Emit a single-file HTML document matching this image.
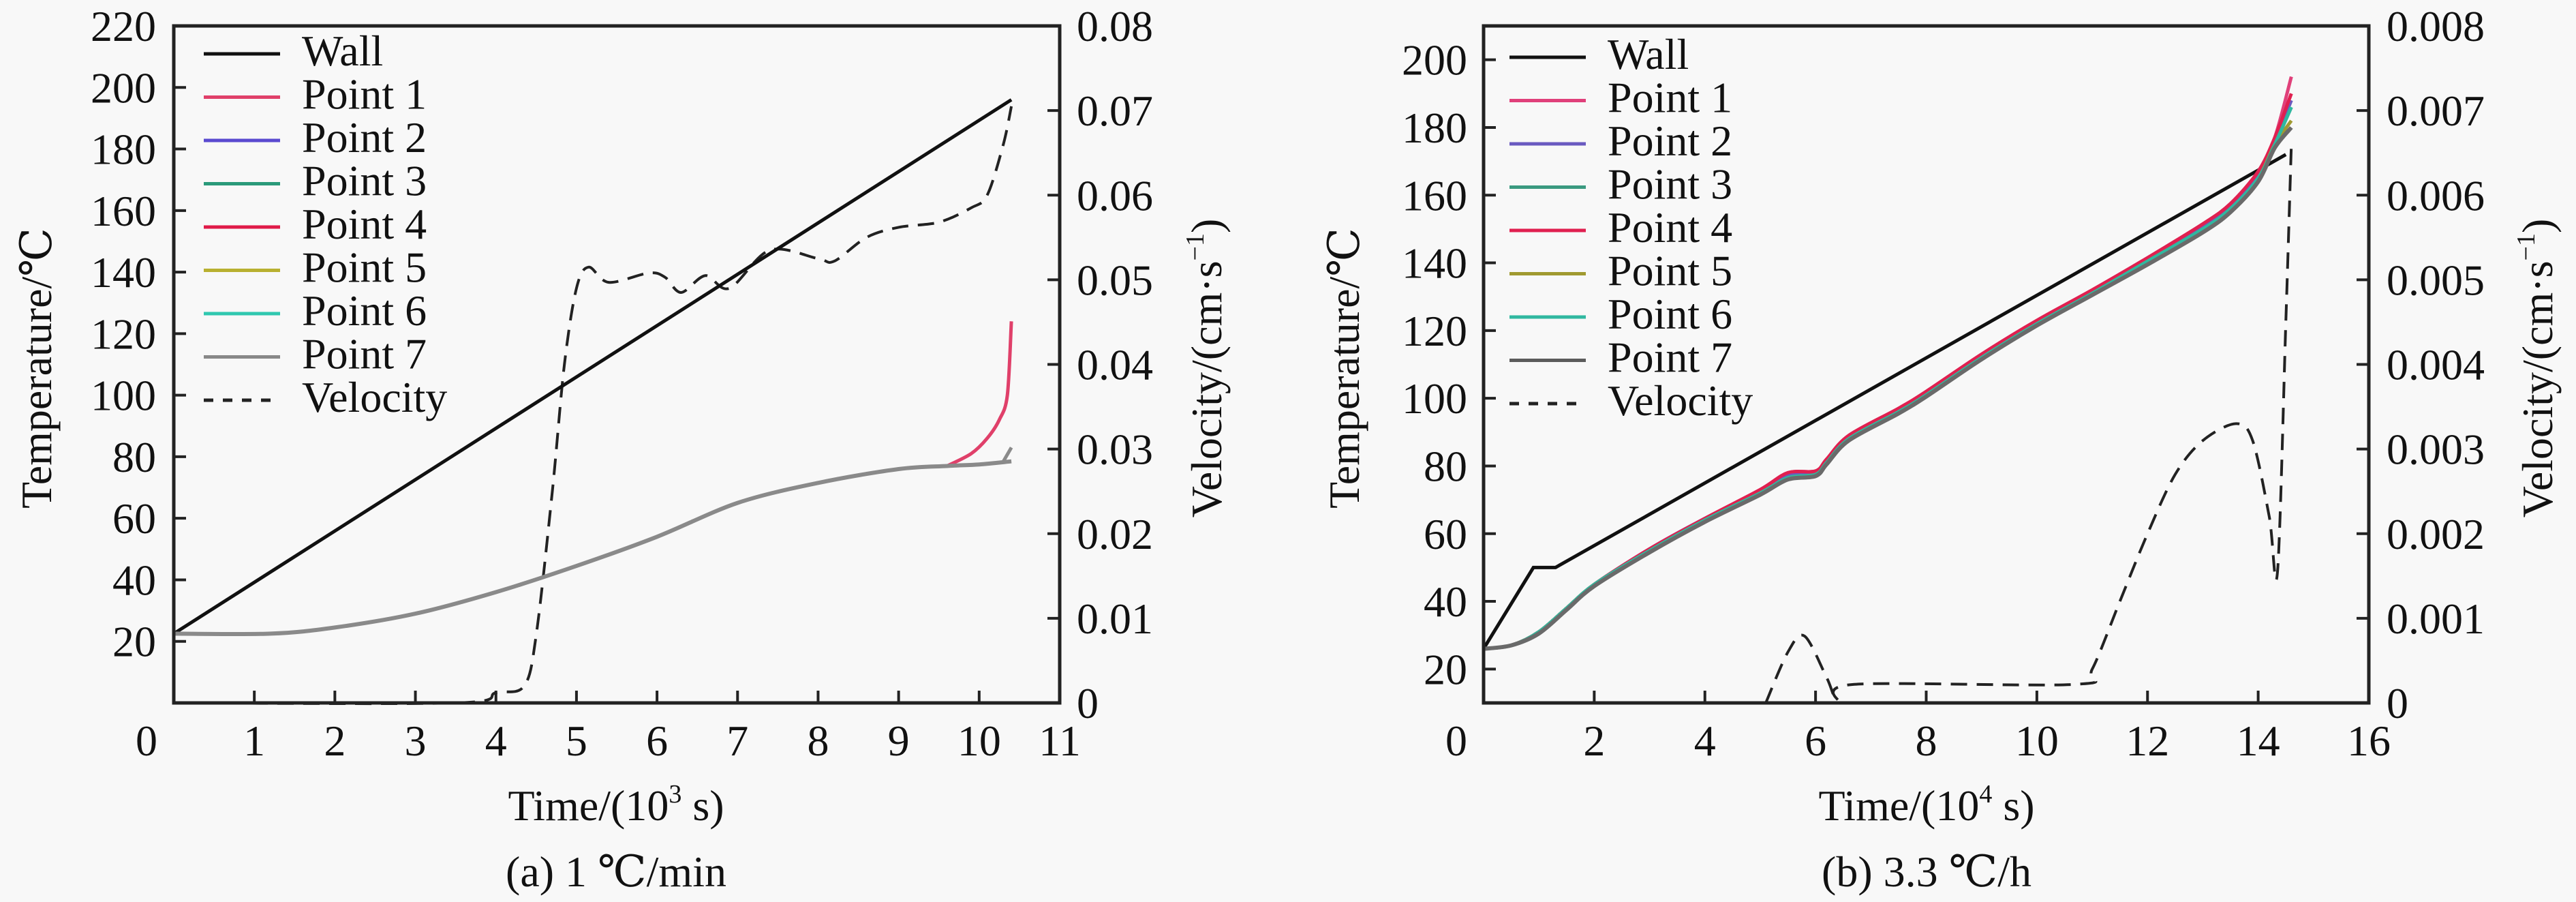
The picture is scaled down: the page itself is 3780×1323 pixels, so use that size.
<!DOCTYPE html>
<html><head><meta charset="utf-8"><style>
html,body{margin:0;padding:0;background:#f8f8f8;}
svg{display:block;}
text{font-family:"Liberation Serif","DejaVu Serif","Noto Serif CJK SC",serif;}
</style></head><body>
<svg id="fig" width="3780" height="1323" viewBox="0 0 3780 1323" xmlns="http://www.w3.org/2000/svg">
<rect width="3780" height="1323" fill="#f8f8f8"/>
</svg>
<script>
// ---------- Chart (a) data ----------
const aXTicks = [0,1,2,3,4,5,6,7,8,9,10,11];
const aYTicks = [20,40,60,80,100,120,140,160,180,200,220];
const aVTicks = [0,0.01,0.02,0.03,0.04,0.05,0.06,0.07,0.08];
const aVTickLabels = ["0","0.01","0.02","0.03","0.04","0.05","0.06","0.07","0.08"];
const aWallT = [0,10.4];
const aWallV = [22.5,196];
const aPtT = [0,1.2,2,3,4,5,6,7,8,9,9.6,10,10.4];
const aP7 = [22.5,22.5,24.5,29,36,44.5,54,65,71.5,76,77,77.5,78.5];
const aP1T = [9.6,9.9,10.1,10.25,10.35,10.4];
const aP1 = [77,81,86,92,100,124];
const aP7EndT = [10.3,10.4];
const aP7End = [78.5,83];
const aVelT = [0,3.5,4,4.35,4.5,4.7,4.85,5,5.15,5.4,5.9,6.1,6.3,6.6,6.9,7.4,8,8.2,8.6,9,9.5,9.9,10.1,10.3,10.4];
const aVel = [0,0,0.0012,0.002,0.008,0.025,0.04,0.049,0.0515,0.0497,0.0508,0.0503,0.0485,0.0505,0.049,0.0535,0.0525,0.0522,0.055,0.0562,0.0568,0.0585,0.06,0.066,0.0705];

// ---------- Chart (b) data ----------
const bXTicks = [0,2,4,6,8,10,12,14,16];
const bYTicks = [20,40,60,80,100,120,140,160,180,200];
const bVTicks = [0,0.001,0.002,0.003,0.004,0.005,0.006,0.007,0.008];
const bVTickLabels = ["0","0.001","0.002","0.003","0.004","0.005","0.006","0.007","0.008"];
const bWallT = [0,0.9,1.3,14.5];
const bWallV = [26,50,50,172];
const bPtT = [0,0.5,1,1.5,2,3,4,5,5.5,6,6.2,6.6,7.5,8,9,10,11,12,13,13.5,14,14.3,14.6];
const bP1 = [26,27,31,38,45,55.5,64.5,73,78,78.5,82,89,97,102,113,123,132,141.5,151.5,157.5,167,177,195];
const bP2 = [26,27,31,38,45,55.5,64.5,72.5,77,78,81.5,88.5,96.5,101.5,112.5,122.5,131.5,141,151,157,166,176,188];
const bP3 = [26,27,31,38,45,55,64,72,76.5,77.5,81,88,96,101,112,122,131,140.5,150,156,165,175,186];
const bP4 = [26,27,31,38,45,55.5,64.5,73,78,78.5,82,89,97,102,113,123,132,141.5,151.5,157.5,167,177,190];
const bP5 = [26,27,31,38,45,55,64,72,76.5,77.5,81,88,96,101,112,122,131,140.5,150,156,165,175,182];
const bP6 = [26,27,31,38,45,55,64,72,76.5,77.5,81,88,96,101,112,122,131,140.5,150,156,165,175,186];
const bP7 = [26,27,30.5,37.5,44.5,54.5,63.5,71.5,76,77,80.5,87.5,95.5,100.5,111.5,121.5,130.5,139.5,149,155,164,174,180];
const bVelT = [5.1,5.5,5.8,6.2,6.4,6.7,10.7,11,11.5,12,12.5,13,13.6,13.9,14.2,14.35,14.5,14.6];
const bVel = [0,0.0006,0.00079,0.0003,0.00003,0.00022,0.00022,0.0004,0.0012,0.002,0.0027,0.0031,0.0033,0.0031,0.0022,0.00155,0.0045,0.0066];

const NS = "http://www.w3.org/2000/svg";
const FONT = '"Liberation Serif","DejaVu Serif","Noto Serif CJK SC",serif';
const fig = document.getElementById('fig');
function mk(tag, attrs, parent){
  const e = document.createElementNS(NS, tag);
  for (const k in attrs) e.setAttribute(k, attrs[k]);
  (parent||fig).appendChild(e);
  return e;
}
function txt(str, x, y, size, anchor, parent){
  const t = mk('text', {x:x, y:y, 'font-size':size, 'text-anchor':anchor||'start', fill:'#111', 'font-family':FONT}, parent);
  t.textContent = str;
  return t;
}
function smoothPath(P){
  if (P.length < 3) return P.map((p,i)=>(i?'L':'M')+p[0].toFixed(1)+' '+p[1].toFixed(1)).join(' ');
  let d = 'M'+P[0][0].toFixed(1)+' '+P[0][1].toFixed(1);
  for (let i=0;i<P.length-1;i++){
    const p0 = P[Math.max(0,i-1)], p1 = P[i], p2 = P[i+1], p3 = P[Math.min(P.length-1,i+2)];
    const k = 0.16;
    const c1x = p1[0] + (p2[0]-p0[0])*k, c1y = p1[1] + (p2[1]-p0[1])*k;
    const c2x = p2[0] - (p3[0]-p1[0])*k, c2y = p2[1] - (p3[1]-p1[1])*k;
    d += ' C'+c1x.toFixed(1)+' '+c1y.toFixed(1)+' '+c2x.toFixed(1)+' '+c2y.toFixed(1)+' '+p2[0].toFixed(1)+' '+p2[1].toFixed(1);
  }
  return d;
}

function chart(cfg){
  const g = mk('g', {});
  
  
  const L=cfg.L, R=cfg.R, T=38, B=1031;
  const sx = v => L + (v - cfg.x0)/(cfg.x1 - cfg.x0)*(R-L);
  const sy = v => B - (v - cfg.y0)/(cfg.y1 - cfg.y0)*(B-T);
  const sv = v => B - (v - cfg.v0)/(cfg.v1 - cfg.v0)*(B-T);
  const pts = (xs, ys, fy) => xs.map((x,i)=>[sx(x), fy(ys[i])]);
  const straight = P => P.map((p,i)=>(i?'L':'M')+p[0].toFixed(1)+' '+p[1].toFixed(1)).join(' ');

  const series = mk('g', {}, g);
  
  
  const vel = mk('path', {d:smoothPath(pts(cfg.velT, cfg.vel, sv)), fill:'none', stroke:'#222', 'stroke-width':4, 'stroke-dasharray':'24 14'}, series);
  
  
  const wall = mk('path', {d:straight(pts(cfg.wallT, cfg.wallV, sy)), fill:'none', stroke:'#111', 'stroke-width':5}, series);
  
  
  cfg.points.forEach(p=>{
    const e = mk('path', {d:smoothPath(pts(p.t, p.v, sy)), fill:'none', stroke:p.c, 'stroke-width':p.w||5, 'stroke-linejoin':'round'}, series);
    
    
  });

  const fr = mk('rect', {x:L, y:T, width:R-L, height:B-T, fill:'none', stroke:'#222', 'stroke-width':5}, g);
  
  

  cfg.xTicks.forEach((v,i)=>{
    const x = sx(v);
    if (i>0 && i<cfg.xTicks.length-1){
      const tk = mk('line', {x1:x, x2:x, y1:B, y2:B-18, stroke:'#222', 'stroke-width':4}, g);
      
      
    }
    const lab = txt(String(v), i===0 ? x-40 : x, 1108, 64, 'middle', g);
    
    
  });
  cfg.yTicks.forEach(v=>{
    const y = sy(v);
    if (y > T+3){
      const tk = mk('line', {x1:L, x2:L+18, y1:y, y2:y, stroke:'#222', 'stroke-width':4}, g);
      
      
    }
    const lab = txt(String(v), cfg.yLabX, y+22, 64, 'end', g);
    
    
  });
  cfg.vTicks.forEach((v,i)=>{
    const y = sv(v);
    if (i>0 && i<cfg.vTicks.length-1){
      const tk = mk('line', {x1:R, x2:R-18, y1:y, y2:y, stroke:'#222', 'stroke-width':4}, g);
      
      
    }
    const lab = txt(cfg.vLabels[i], cfg.vLabX, y+22, 64, 'start', g);
    
    
  });

  const xt = mk('text', {x:cfg.xTitleX, y:1203, 'font-size':64, 'text-anchor':'middle', fill:'#111', 'font-family':FONT}, g);
  
  
  xt.innerHTML = 'Time/(10<tspan font-size="38" dy="-26">'+cfg.exp+'</tspan><tspan dy="26"> s)</tspan>';
  const yt = mk('text', {x:0, y:0, 'font-size':64, 'text-anchor':'middle', fill:'#111', 'font-family':FONT, transform:'translate('+cfg.yTitleX+',540) rotate(-90)'}, g);
  
  
  yt.textContent = 'Temperature/℃';
  const vt = mk('text', {x:0, y:0, 'font-size':64, 'text-anchor':'middle', fill:'#111', 'font-family':FONT, transform:'translate('+cfg.vTitleX+',540) rotate(-90)'}, g);
  
  
  vt.innerHTML = 'Velocity/(cm·s<tspan font-size="38" dy="-26">−1</tspan><tspan dy="26">)</tspan>';
  const cap = txt(cfg.caption, cfg.xTitleX, 1300, 64, 'middle', g);
  
  

  const lg = mk('g', {}, g);
  
  
  cfg.legend.forEach((it,i)=>{
    const y = cfg.legY + i*63.5;
    const ln = mk('line', {x1:cfg.legX, x2:cfg.legX+112, y1:y, y2:y, stroke:it.c, 'stroke-width':5, 'stroke-dasharray': it.dash ? '14 14' : 'none'}, lg);
    
    
    const lt = txt(it.label, cfg.legX+144, y+17, 64, 'start', lg);
    
    
  });
}

const legA = [
  {label:'Wall', c:'#111'},{label:'Point 1', c:'#e0406a'},{label:'Point 2', c:'#5a4ad0'},
  {label:'Point 3', c:'#2a9a7a'},{label:'Point 4', c:'#e01a48'},{label:'Point 5', c:'#b8b030'},
  {label:'Point 6', c:'#30c8b0'},{label:'Point 7', c:'#888'},{label:'Velocity', c:'#222', dash:true}];
const legB = [
  {label:'Wall', c:'#111'},{label:'Point 1', c:'#e0407a'},{label:'Point 2', c:'#6a5ac0'},
  {label:'Point 3', c:'#3a9a80'},{label:'Point 4', c:'#e02050'},{label:'Point 5', c:'#a09a30'},
  {label:'Point 6', c:'#30b8a0'},{label:'Point 7', c:'#5c5c5c'},{label:'Velocity', c:'#222', dash:true}];

chart({name:'chart-a', L:255, R:1555, x0:0, x1:11, y0:0, y1:220, v0:0, v1:0.08,
  xTicks:aXTicks, yTicks:aYTicks, vTicks:aVTicks, vLabels:aVTickLabels,
  yLabX:229, vLabX:1580, xTitleX:904, yTitleX:75, vTitleX:1792, exp:'3', caption:'(a) 1 ℃/min',
  wallT:aWallT, wallV:aWallV, velT:aVelT, vel:aVel,
  points:[
    {name:'point-1-line', t:aP1T, v:aP1, c:'#e0406a'},
    {name:'point-7-line', t:aPtT, v:aP7, c:'#8a8a8a', w:6},
    {name:'point-7-end', t:aP7EndT, v:aP7End, c:'#8a8a8a'}],
  legX:299, legY:79, legend:legA});

chart({name:'chart-b', L:2177, R:3476, x0:0, x1:16, y0:10, y1:210, v0:0, v1:0.008,
  xTicks:bXTicks, yTicks:bYTicks, vTicks:bVTicks, vLabels:bVTickLabels,
  yLabX:2153, vLabX:3502, xTitleX:2827, yTitleX:1994, vTitleX:3745, exp:'4', caption:'(b) 3.3 ℃/h',
  wallT:bWallT, wallV:bWallV, velT:bVelT, vel:bVel,
  points:[
    {name:'point-1-line', t:bPtT, v:bP1, c:'#e0407a'},
    {name:'point-2-line', t:bPtT, v:bP2, c:'#6a5ac0'},
    {name:'point-3-line', t:bPtT, v:bP3, c:'#3a9a80'},
    {name:'point-4-line', t:bPtT, v:bP4, c:'#e02050'},
    {name:'point-5-line', t:bPtT, v:bP5, c:'#a09a30'},
    {name:'point-6-line', t:bPtT, v:bP6, c:'#30b8a0'},
    {name:'point-7-line', t:bPtT, v:bP7, c:'#6a6a6a', w:6}],
  legX:2215, legY:84, legend:legB});
</script>
</body></html>
